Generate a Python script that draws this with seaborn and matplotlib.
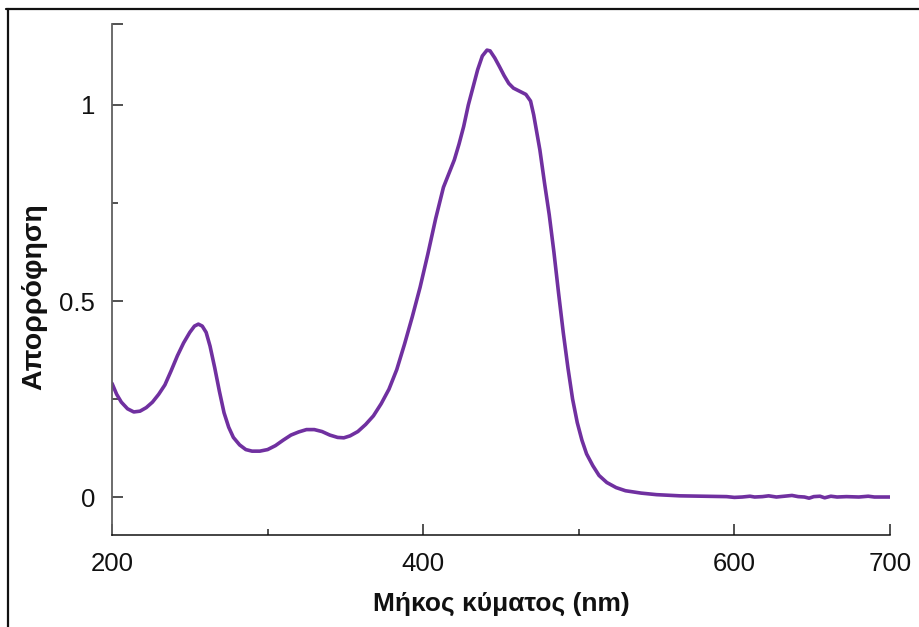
import matplotlib
matplotlib.use("Agg")
import matplotlib.pyplot as plt
from matplotlib.lines import Line2D
from matplotlib.ticker import FixedLocator
import seaborn as sns
import pandas as pd

# ---- data ----
wavelength = [200, 203, 206, 210, 214, 218, 222, 226, 230, 234, 238, 242, 246, 250, 253,
              255.5, 258, 260.5, 263, 266, 269, 272, 275, 278, 282, 286, 290, 295, 300,
              305, 310, 315, 320, 325, 330, 335, 340, 345, 349, 353, 358, 363, 368, 373,
              378, 383, 388, 393, 398, 403, 408, 413, 417, 420, 423, 426, 429, 432, 435,
              438, 441, 443, 446, 449, 452, 455, 458, 462, 466, 469, 471, 473, 475, 478,
              481, 484, 487, 490, 493, 496, 499, 502, 505, 509, 513, 518, 524, 530, 540,
              550, 565, 580, 595, 600, 605, 610, 613, 618, 622, 627, 632, 637, 641, 645,
              648, 651, 655, 658, 662, 666, 672, 680, 686, 690, 700]
absorbance = [0.29, 0.262, 0.242, 0.225, 0.217, 0.219, 0.228, 0.242, 0.262, 0.286, 0.322,
              0.36, 0.393, 0.42, 0.436, 0.441, 0.436, 0.42, 0.385, 0.33, 0.27, 0.215, 0.178,
              0.152, 0.133, 0.121, 0.117, 0.117, 0.121, 0.131, 0.145, 0.158, 0.166, 0.172,
              0.172, 0.167, 0.158, 0.152, 0.151, 0.156, 0.167, 0.185, 0.207, 0.238, 0.275,
              0.325, 0.39, 0.46, 0.535, 0.62, 0.71, 0.79, 0.83, 0.86, 0.9, 0.945, 1.0,
              1.045, 1.09, 1.125, 1.14, 1.138, 1.12, 1.098, 1.075, 1.055, 1.043, 1.035,
              1.027, 1.01, 0.975, 0.93, 0.885, 0.8, 0.72, 0.625, 0.52, 0.42, 0.33, 0.25,
              0.19, 0.145, 0.11, 0.08, 0.055, 0.037, 0.024, 0.016, 0.01, 0.006, 0.003,
              0.002, 0.001, -0.001, 0.0, 0.002, 0.0, 0.001, 0.003, 0.0, 0.002, 0.004,
              0.001, 0.0, -0.003, 0.001, 0.002, -0.002, 0.002, 0.0, 0.001, 0.0, 0.002,
              0.0, 0.0]

x_ticks = [200, 400, 600, 700]
x_tick_labels = ["200", "400", "600", "700"]
x_minor = [300, 500]
y_ticks = [0, 0.5, 1]
y_tick_labels = ["0", "0.5", "1"]
y_minor = [0.25, 0.75]

xlabel = "Μήκος κύματος (nm)"
ylabel = "Απορρόφηση"

df = pd.DataFrame({"wl": wavelength, "abs": absorbance})

sns.set_theme(style="white")
plt.rcParams["font.family"] = ["Liberation Sans", "DejaVu Sans"]

fig = plt.figure(figsize=(9.19, 6.27), dpi=100)
ax = fig.add_axes([112 / 919, 1 - 535 / 627, (890 - 112) / 919, (535 - 24) / 627])

sns.lineplot(data=df, x="wl", y="abs", ax=ax, color="#7030A0", linewidth=2.6)

ytop = 1.2066
ax.set_xlim(200, 700)
ax.set_ylim(-0.0969, ytop)

ax.set_xticks(x_ticks)
ax.set_xticklabels(x_tick_labels)
ax.xaxis.set_minor_locator(FixedLocator(x_minor))
ax.set_yticks(y_ticks + [ytop])
ax.set_yticklabels(y_tick_labels + [""])
ax.yaxis.set_minor_locator(FixedLocator(y_minor))

ax.tick_params(axis="both", which="both", bottom=True, left=True, top=False, right=False)
ax.tick_params(axis="both", which="major", direction="in", length=8, width=1.1,
               color="#222222", labelsize=18.5, labelcolor="#111111")
ax.tick_params(axis="both", which="minor", direction="in", length=4.5, width=1.1,
               color="#222222")
ax.tick_params(axis="x", which="major", pad=12)
ax.tick_params(axis="y", which="major", pad=12)

for s in ["top", "right"]:
    ax.spines[s].set_visible(False)
ax.spines["left"].set_color("#606060")
ax.spines["left"].set_linewidth(1.3)
ax.spines["bottom"].set_color("#111111")
ax.spines["bottom"].set_linewidth(1.1)

ax.set_xlabel(xlabel, fontsize=19, fontweight="bold", color="#111111", labelpad=12)
ax.set_ylabel(ylabel, fontsize=20.5, fontweight="bold", color="#111111")
ax.yaxis.set_label_coords(-0.0835, 0.466)

# figure frame (top and left edges)
fig.add_artist(Line2D([6 / 919, 1.0], [1 - 8.5 / 627, 1 - 8.5 / 627],
                      transform=fig.transFigure, color="#111111", linewidth=1.6))
fig.add_artist(Line2D([7.5 / 919, 7.5 / 919], [0.0, 1 - 8.5 / 627],
                      transform=fig.transFigure, color="#111111", linewidth=1.6))

fig.savefig("out.png", dpi=100)
